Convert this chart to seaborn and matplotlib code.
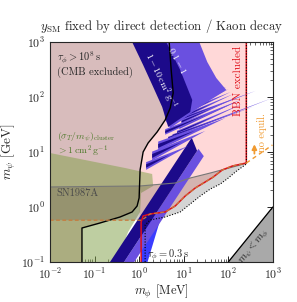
import numpy as np
import seaborn as sns
import matplotlib
matplotlib.use("Agg")
import matplotlib.pyplot as plt

# all values are log10 of (m_phi [MeV], m_psi [GeV])

# CMB exclusion boundary (black line)
cmb_lx = [0.674, 0.719, 0.764, 0.697, 0.584, 0.404, 0.202, 0.09, 0.022, 0.0, -0.045, -0.157, -0.427, -0.876, -1.281, -1.281]
cmb_ly = [3.0, 2.491, 2.073, 1.8, 1.582, 1.364, 1.164, 1.0, 0.673, 0.164, 0.018, -0.091, -0.182, -0.291, -0.382, -1.0]

# BBN lower boundary (red line), right edge at bbn_edge
bbn_lx = [0.045, 0.045, 0.09, 0.247, 0.584, 0.809, 1.034, 1.258, 1.483, 1.663, 1.865, 2.09, 2.404]
bbn_ly = [-1.0, -0.273, -0.164, -0.127, -0.091, 0.018, 0.2, 0.345, 0.455, 0.545, 0.673, 0.745, 0.8]
bbn_edge = 2.404

# tau_phi = 0.3 s (dotted)
tau_lx = [0.135, 0.135, 0.247, 0.584, 0.921, 1.146, 1.371, 1.596, 1.82, 2.0, 2.157, 2.404, 2.404]
tau_ly = [-1.0, -0.327, -0.236, -0.182, -0.091, 0.055, 0.2, 0.327, 0.418, 0.527, 0.636, 0.782, 3.0]

# SN1987A upper line and lower dashed line
sn_top_lx = [-2.0, 0.022, 0.809, 1.146, 1.596, 2.27, 2.404]
sn_top_ly = [0.364, 0.382, 0.436, 0.527, 0.618, 0.764, 0.8]
sn_low_lx = [-2.0, 0.06, 0.247]
sn_low_ly = [-0.24, -0.24, -0.127]

# cluster bound sigma/m > 1 cm^2/g
clu_lx = [-2.0, -1.101, -0.315, 0.292, 0.315, 0.045, 0.022, -0.247, -0.5, -2.0]
clu_ly = [0.982, 0.836, 0.709, 0.6, 0.382, 0.255, -0.09, -0.455, -1.0, -1.0]

# diagonal bands: log m_psi = slope * log m_phi + c
band_slope = 1.234
navy_c = [-0.584, -0.195]
purple_c = [-0.865, -0.584]
navy_end = 1.3
purple_end = 1.45
bright_lx = [0.045, 0.189, 0.472, 0.53, 0.247, 0.09, 0.045]
bright_ly = [-1.0, -1.0, -0.236, -0.1, -0.127, -0.164, -0.273]

# self-interaction fan at the top
fan_navy_lx = [-0.157, 0.607, 0.921, 1.191, 1.146, 0.876, 0.652, 0.517, 0.315, 0.09]
fan_navy_ly = [3.0, 3.0, 2.491, 1.945, 1.727, 1.582, 1.455, 1.818, 2.182, 2.582]
fan_purple_lx = [0.472, 1.348, 1.528, 1.73, 1.955, 1.596, 1.258, 0.966, 0.697, 0.584]
fan_purple_ly = [3.0, 3.0, 2.636, 2.345, 2.127, 1.945, 1.764, 1.582, 1.436, 1.582]

# resonance spikes: base (lx0, ly0) -> tip (lx1, ly1), half width hw
spike_lx0 = [1.3, 1.2, 1.1, 1.0, 0.95, 0.9, 0.85, 0.697, 0.584, 0.652, 0.75, 0.427, 0.292, 0.157]
spike_ly0 = [1.95, 1.85, 1.75, 1.65, 1.55, 1.45, 1.35, 1.527, 1.364, 1.255, 1.30, 1.109, 0.927, 0.745]
spike_lx1 = [1.95, 2.0, 2.05, 2.1, 2.15, 2.2, 2.3, 2.607, 2.27, 2.989, 2.55, 1.933, 1.483, 1.101]
spike_ly1 = [2.18, 2.14, 2.09, 2.05, 1.98, 1.92, 1.87, 2.109, 1.945, 1.982, 1.82, 1.618, 1.382, 1.109]
spike_hw = [0.035, 0.035, 0.035, 0.035, 0.035, 0.035, 0.035, 0.03, 0.05, 0.022, 0.022, 0.08, 0.08, 0.07]

# no-equilibrium line
noeq_lx = [2.404, 2.989]
noeq_ly = [0.8, 1.127]

c_cmb = "#d8bcbc"
c_bbn = "#ffd8d8"
c_green = "#7f9f45"
c_navy = "#1c0a8a"
c_purple = "#6a50e0"
c_bright = "#3a3cff"
c_orange = "#f09a30"


def p(v):
    return 10 ** np.asarray(v, dtype=float)


def band_poly(c, lx0, lx1):
    lo, hi = c
    xs = [lx0, lx1 - 0.12, lx1, lx0]
    ys = [hi + band_slope * lx0, hi + band_slope * (lx1 - 0.12), lo + band_slope * lx1, lo + band_slope * lx0]
    return p(xs), p(ys)


sns.set_style("ticks", {"xtick.direction": "in", "ytick.direction": "in"})
plt.rcParams["font.family"] = "serif"
plt.rcParams["font.serif"] = ["cmr10", "DejaVu Serif"]
plt.rcParams["mathtext.fontset"] = "cm"
plt.rcParams["axes.formatter.use_mathtext"] = True
plt.rcParams["axes.unicode_minus"] = False

fig = plt.figure(figsize=(2.97, 3.02), dpi=100)
ax = fig.add_axes([0.168, 0.1325, 0.751, 0.7285])
ax.set_xscale("log")
ax.set_yscale("log")

# CMB region (left of black line)
ax.fill(p([-2.0] + cmb_lx + [-2.0]), p([3.0] + cmb_ly + [-1.0]), color=c_cmb, lw=0, zorder=1)
# BBN region
ax.fill(p(cmb_lx[:10] + [0.045] + bbn_lx + [bbn_edge]),
        p(cmb_ly[:10] + [-1.0] + bbn_ly + [3.0]), color=c_bbn, lw=0, zorder=1)
# light grey between red and dotted lines
ax.fill(p(bbn_lx + tau_lx[:-1][::-1]), p(bbn_ly + tau_ly[:-1][::-1]), color="#d4d4d4", lw=0, zorder=1)

# cluster bound
ax.fill(p(clu_lx), p(clu_ly), color=c_green, alpha=0.5, lw=0, zorder=2)

# SN1987A
snx = sn_top_lx + bbn_lx[::-1][:-4] + sn_low_lx[::-1]
sny = sn_top_ly + bbn_ly[::-1][:-4] + sn_low_ly[::-1]
ax.fill(p(snx), p(sny), color="#5a4a40", alpha=0.26, lw=0, zorder=3)
ax.plot(p(sn_top_lx), p(sn_top_ly), color="#777777", lw=0.8, zorder=5)

# diagonal bands
ax.fill(p(bright_lx), p(bright_ly), color=c_bright, lw=0, zorder=4)
ax.fill(*band_poly(purple_c, -0.5, purple_end), color=c_purple, lw=0, zorder=4)
ax.fill(*band_poly(navy_c, -1.0, navy_end), color=c_navy, lw=0, zorder=4)

# fan and spikes
for x0, y0, x1, y1, hw in zip(spike_lx0, spike_ly0, spike_lx1, spike_ly1, spike_hw):
    ax.fill(p([x0, x1, x0]), p([y0 + hw, y1, y0 - hw]), color=c_purple, lw=0, zorder=4)
    xm, ym = x0 + 0.55 * (x1 - x0), y0 + 0.55 * (y1 - y0)
    ax.fill(p([x0, xm, x0]), p([y0 + 0.45 * hw, ym, y0 - 0.45 * hw]), color=c_navy, lw=0, zorder=4)
ax.fill(p(fan_purple_lx), p(fan_purple_ly), color=c_purple, lw=0, zorder=4)
ax.fill(p(fan_navy_lx), p(fan_navy_ly), color=c_navy, lw=0, zorder=4)

# m_psi < m_phi
mx = np.array([100.0, 1000.0])
ax.fill_between(mx, mx / 1000.0, 0.1, color="#a9a9a9", lw=0, zorder=4)
ax.plot(mx, mx / 1000.0, color="black", lw=1.0, zorder=5)

# lines
ax.plot(p(cmb_lx), p(cmb_ly), color="black", lw=1.0, zorder=5)
ax.plot(p(bbn_lx + [bbn_edge]), p(bbn_ly + [3.0]), color="#e0101a", lw=1.1, zorder=5)
ax.plot(p(tau_lx), p(tau_ly), color="black", lw=0.8, ls=(0, (1, 1.5)), zorder=5)
ax.plot(p(sn_low_lx + bbn_lx[4:]), p(sn_low_ly + bbn_ly[4:]), color="#c8783a", lw=0.9,
        ls=(0, (3, 2)), zorder=6)
ax.plot(p(noeq_lx), p(noeq_ly), color=c_orange, lw=1.0, ls=(0, (3, 2.5)), zorder=6)
ax.annotate("", xy=(384, 15.5), xytext=(384, 8.3),
            arrowprops=dict(arrowstyle="-|>", color=c_orange, lw=1.3, mutation_scale=7), zorder=6)

ax.set_xlim(1e-2, 1e3)
ax.set_ylim(1e-1, 1e3)
ax.tick_params(which="both", direction="in", top=True, right=True, labelsize=8.5)
ax.tick_params(which="major", length=4, width=0.7)
ax.tick_params(which="minor", length=2, width=0.5)
for s in ax.spines.values():
    s.set_linewidth(0.8)
    s.set_zorder(7)

ax.set_xlabel(r"$m_\phi$ [MeV]", fontsize=9, labelpad=1)
ax.set_ylabel(r"$m_\psi$ [GeV]", fontsize=9.5, labelpad=2)
fig.text(0.542, 0.915, r"$y_{\rm SM}$ fixed by direct detection / Kaon decay", fontsize=9.2,
         ha="center", va="center")

tr = ax.transAxes
ax.text(0.031, 0.932, r"$\tau_\phi > 10^8\,$s", transform=tr, fontsize=7.5, va="center", zorder=8)
ax.text(0.031, 0.864, "(CMB excluded)", transform=tr, fontsize=7.5, va="center", zorder=8)
ax.text(0.031, 0.568, r"$(\sigma_T/m_\psi)_{\rm cluster}$", transform=tr, fontsize=7,
        va="center", color="#4f7a2c", zorder=8)
ax.text(0.031, 0.503, r"$> 1\,{\rm cm}^2\,{\rm g}^{-1}$", transform=tr, fontsize=7,
        va="center", color="#4f7a2c", zorder=8)
ax.text(0.031, 0.314, "SN1987A", transform=tr, fontsize=7.5, va="center", color="#4a4a4a", zorder=8)
ax.text(0.435, 0.034, r"$\tau_\phi = 0.3\,$s", transform=tr, fontsize=7.5, va="center", zorder=8)
ax.text(0.493, 0.823, r"$1-10\,{\rm cm}^2\,{\rm g}^{-1}$", transform=tr, fontsize=7, color="white",
        rotation=-64, ha="center", va="center", zorder=8)
ax.text(0.57, 0.915, r"$0.1-1$", transform=tr, fontsize=7, color="white",
        rotation=-62, ha="center", va="center", zorder=8)
ax.text(0.843, 0.822, "BBN excluded", transform=tr, fontsize=8, color="#e0101a",
        rotation=90, ha="center", va="center", zorder=8)
ax.text(0.95, 0.59, "no equil.", transform=tr, fontsize=7.5, color=c_orange,
        rotation=90, ha="center", va="center", zorder=8)
ax.text(0.915, 0.068, r"$m_\psi < m_\phi$", transform=tr, fontsize=7.5,
        rotation=51, ha="center", va="center", zorder=8)

fig.savefig("out.png", dpi=100)
